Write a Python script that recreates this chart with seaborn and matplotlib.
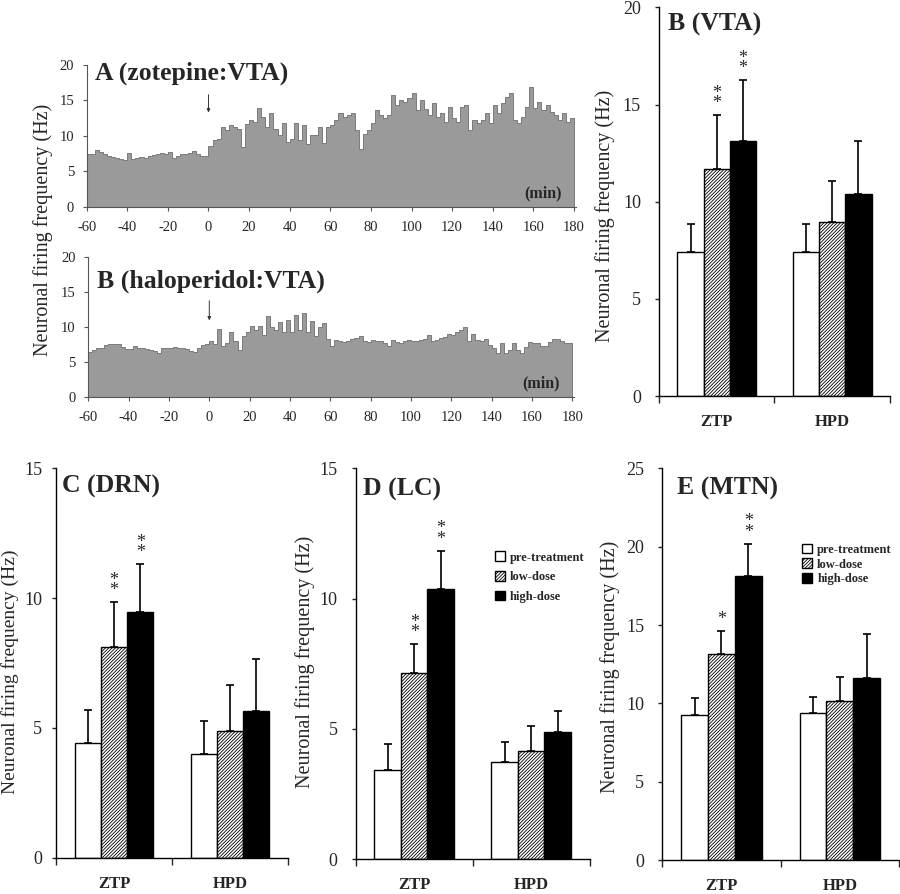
import numpy as np
import pandas as pd
import matplotlib
matplotlib.use("Agg")
import matplotlib.pyplot as plt
import seaborn as sns

# firing rate traces (Hz), 2-min bins from -60 to 180 min
bin_start = np.arange(-60, 180, 2)
zotepine_rate = [
    7.4, 7.5, 8.0, 7.7, 7.4, 7.2, 7.0, 6.9, 6.7, 6.6, 7.6, 6.8, 6.9, 7.0, 6.9,
    7.1, 7.3, 7.5, 7.6, 7.5, 7.7, 6.9, 7.2, 7.5, 7.4, 7.6, 7.8, 7.4, 7.2, 7.1,
    8.6, 9.4, 9.6, 11.3, 10.8, 11.5, 11.2, 10.9, 8.4, 11.7, 12.2, 12.0, 13.9, 12.7, 11.3,
    13.2, 11.0, 10.1, 11.8, 9.2, 9.6, 11.8, 9.4, 11.5, 8.8, 10.1, 10.1, 11.3, 9.0, 11.3,
    11.5, 12.2, 13.2, 12.7, 12.9, 13.2, 10.8, 8.2, 10.3, 10.8, 11.8, 13.6, 12.9, 12.5, 12.9,
    15.8, 14.3, 15.1, 14.8, 15.3, 16.0, 13.6, 15.1, 13.8, 12.9, 14.6, 12.7, 13.2, 12.0, 14.1,
    12.5, 12.0, 14.1, 14.4, 10.8, 12.2, 11.8, 12.2, 13.2, 11.8, 14.4, 13.2, 14.6, 15.5, 16.0,
    12.2, 11.8, 12.7, 14.1, 16.9, 13.9, 14.8, 13.6, 14.4, 13.4, 12.9, 12.2, 13.2, 12.0, 12.5,
]
haloperidol_rate = [
    6.4, 6.6, 6.9, 7.0, 7.4, 7.5, 7.5, 7.5, 7.1, 6.8, 6.8, 7.2, 7.0, 7.0, 6.8,
    6.7, 6.5, 6.2, 6.9, 6.9, 7.0, 7.1, 6.9, 7.0, 6.8, 6.5, 6.4, 7.0, 7.4, 7.5,
    7.9, 7.5, 9.6, 7.3, 7.6, 9.3, 7.9, 6.7, 8.6, 9.3, 10.1, 9.5, 10.1, 8.8, 11.5,
    10.0, 9.5, 10.6, 9.3, 11.0, 9.3, 11.7, 9.5, 11.9, 9.3, 10.8, 8.6, 9.9, 10.5, 8.3,
    7.2, 8.1, 7.9, 7.8, 8.0, 8.3, 8.4, 8.6, 8.0, 7.8, 8.1, 8.0, 7.9, 7.7, 7.2,
    8.1, 7.8, 7.6, 8.0, 8.1, 8.0, 8.0, 8.1, 8.2, 8.8, 8.0, 8.1, 8.4, 8.5, 9.0,
    8.8, 9.2, 9.5, 10.0, 7.9, 9.0, 8.1, 8.0, 8.3, 7.4, 6.9, 6.2, 7.6, 6.2, 6.6,
    7.6, 6.7, 6.2, 7.1, 7.8, 7.7, 7.6, 7.3, 7.2, 7.8, 8.3, 8.2, 8.0, 7.7, 7.6,
]

# group means and upper error (order: ZTP pre/low/high, HPD pre/low/high)
drugs = ["ZTP", "HPD"]
doses = ["pre-treatment", "low-dose", "high-dose"]
vta_mean = [7.4, 11.7, 13.1, 7.4, 8.95, 10.4]
vta_err = [1.45, 2.75, 3.15, 1.45, 2.1, 2.7]
vta_stars = ["", "**", "**", "", "", ""]
drn_mean = [4.4, 8.1, 9.45, 3.98, 4.87, 5.66]
drn_err = [1.3, 1.75, 1.87, 1.3, 1.77, 1.98]
drn_stars = ["", "**", "**", "", "", ""]
lc_mean = [3.43, 7.14, 10.36, 3.75, 4.17, 4.9]
lc_err = [0.98, 1.12, 1.48, 0.76, 0.95, 0.8]
lc_stars = ["", "**", "**", "", "", ""]
mtn_mean = [9.26, 13.15, 18.15, 9.4, 10.17, 11.64]
mtn_err = [1.06, 1.49, 2.05, 0.98, 1.53, 2.81]
mtn_stars = ["", "*", "**", "", "", ""]

sns.set_style("ticks")
plt.rcParams["font.family"] = ["Liberation Serif", "DejaVu Serif"]
plt.rcParams["hatch.linewidth"] = 0.6
plt.rcParams["axes.unicode_minus"] = False

fig = plt.figure(figsize=(9, 8.94), dpi=100)

# ---- time course panels ----
def trace_panel(rect, rate, title, title_y, arrow):
    ax = fig.add_axes(rect)
    trace = pd.DataFrame({"t": bin_start + 1, "rate": rate})
    sns.histplot(data=trace, x="t", weights="rate", bins=list(range(-60, 182, 2)),
                 element="step", fill=True, color="#9a9a9a", alpha=1,
                 edgecolor="#6e6e6e", linewidth=0.6, ax=ax)
    ax.set_xlim(-60, 181)
    ax.set_ylim(0, 20)
    ax.set_xticks(range(-60, 181, 20))
    ax.set_yticks([0, 5, 10, 15, 20])
    ax.set_xlabel("")
    ax.set_ylabel("")
    ax.tick_params(labelsize=10.5, length=3, width=0.8, color="#555555")
    ax.tick_params(axis="y", pad=6)
    ax.tick_params(axis="x", pad=7)
    sns.despine(ax=ax)
    for s in ["left", "bottom"]:
        ax.spines[s].set_color("#555555")
        ax.spines[s].set_linewidth(0.8)
    ax.text(0.017, title_y, title, transform=ax.transAxes, fontsize=18.5,
            fontweight="bold", va="baseline")
    ax.text(174, 1.3, "(min)", ha="right", va="baseline", fontsize=11.5,
            fontweight="bold")
    ax.annotate("", xy=(0, arrow[1]), xytext=(0, arrow[0]),
                arrowprops=dict(arrowstyle="-|>", color="#333333", lw=0.7,
                                mutation_scale=5))
    return ax

trace_panel([0.0963, 0.7688, 0.5437, 0.1585], zotepine_rate,
            "A (zotepine:VTA)", 0.894, (16.2, 12.9))
trace_panel([0.0981, 0.5563, 0.540, 0.1566], haloperidol_rate,
            "B (haloperidol:VTA)", 0.78, (14.1, 10.5))
fig.text(0.048, 0.743, "Neuronal firing frequency (Hz)", rotation=90,
         ha="center", va="center", fontsize=14.5)

# ---- bar panels ----
def bar_panel(rect, mean, err, stars, ymax, title, title_x, title_y,
              label_xy, legend_pos=None, legend_spacing=0.5, ypad=10,
              label_size=14.5):
    ax = fig.add_axes(rect)
    df = pd.DataFrame({
        "drug": np.repeat(drugs, 3),
        "dose": doses * 2,
        "rate": mean,
        "err": err,
        "star": stars,
    })
    sns.barplot(data=df, x="drug", y="rate", hue="dose", order=drugs,
                hue_order=doses, palette=["white", "white", "black"],
                saturation=1, edgecolor="black", linewidth=1, width=0.68,
                errorbar=None, legend=False, ax=ax)
    bar_sets = list(ax.containers)
    for i, cont in enumerate(bar_sets):
        for j, bar in enumerate(cont):
            if i == 1:
                bar.set_hatch("//////////")
            row = df[(df.drug == drugs[j]) & (df.dose == doses[i])].iloc[0]
            xc = bar.get_x() + bar.get_width() / 2
            ax.errorbar(xc, row.rate, yerr=[[0], [row.err]], color="black",
                        lw=1.2, capsize=3, capthick=1.2)
            if row.star:
                ax.annotate("\n".join(row.star), (xc, row.rate + row.err),
                            xytext=(0, 2), textcoords="offset points",
                            ha="center", va="bottom", fontsize=13,
                            linespacing=0.5)
    ax.set_xlim(-0.5, 1.5)
    ax.set_ylim(0, ymax)
    ax.set_yticks(range(0, ymax + 1, 5))
    ax.set_xticks([0, 1])
    ax.set_xticklabels(drugs, fontweight="bold", fontsize=12)
    ax.set_xticks([-0.5, 0.5, 1.5], minor=True)
    ax.tick_params(axis="x", which="major", length=0, pad=13)
    ax.tick_params(axis="x", which="minor", length=5, width=1)
    ax.tick_params(axis="y", labelsize=13, length=3, width=1, pad=ypad)
    ax.set_xlabel("")
    ax.set_ylabel("Neuronal firing frequency (Hz)", fontsize=label_size)
    ax.yaxis.set_label_coords(*label_xy)
    sns.despine(ax=ax)
    for s in ["left", "bottom"]:
        ax.spines[s].set_linewidth(1)
        ax.spines[s].set_color("black")
    ax.text(title_x, title_y, title, transform=ax.transAxes, fontsize=18.5,
            fontweight="bold", va="baseline")
    if legend_pos is not None:
        ax.legend(bar_sets, doses, loc="upper left",
                  bbox_to_anchor=legend_pos, frameon=False,
                  prop={"size": 9, "weight": "bold"}, handlelength=0.8,
                  handleheight=0.8, handletextpad=0.4,
                  labelspacing=legend_spacing, borderaxespad=0)
    return ax

bar_panel([0.7322, 0.557, 0.2567, 0.4348], vta_mean, vta_err, vta_stars, 20,
          "B (VTA)", 0.04, 0.941, (-0.19, 0.463))
bar_panel([0.0622, 0.0406, 0.2578, 0.4356], drn_mean, drn_err, drn_stars, 15,
          "C (DRN)", 0.025, 0.937, (-0.158, 0.477), ypad=7, label_size=14)
bar_panel([0.3952, 0.0388, 0.26, 0.4374], lc_mean, lc_err, lc_stars, 15,
          "D (LC)", 0.03, 0.931, (-0.174, 0.504), legend_pos=(0.574, 0.80),
          legend_spacing=0.6)
bar_panel([0.7359, 0.038, 0.263, 0.4381], mtn_mean, mtn_err, mtn_stars, 25,
          "E (MTN)", 0.063, 0.932, (-0.179, 0.493), legend_pos=(0.57, 0.82),
          legend_spacing=0.2)

fig.savefig("out.png", dpi=100)
